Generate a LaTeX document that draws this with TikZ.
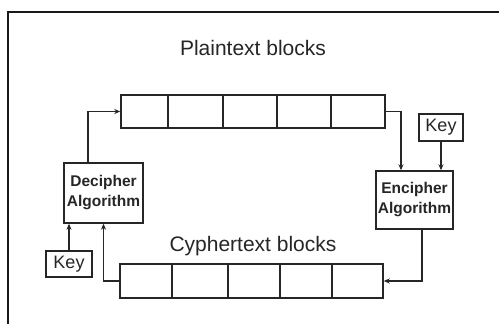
\documentclass[tikz,border=0pt]{standalone}
\usepackage{fontspec}
\setmainfont{Liberation Sans}
\usetikzlibrary{arrows.meta}
\begin{document}
\begin{tikzpicture}[x=1pt,y=-1pt,
  cell/.style={draw=black!85,line width=1.5pt,inner sep=0pt,minimum height=33pt},
  algbox/.style={draw=black!85,line width=1.4pt,inner sep=0pt,align=center,
    font=\bfseries\fontsize{15.5}{20}\selectfont,text=black!85},
  keybox/.style={draw=black!85,line width=1.4pt,inner sep=0pt,
    font=\fontsize{18}{20}\selectfont,text=black!85},
  title/.style={font=\fontsize{21}{24}\selectfont,text=black!85},
  arr/.style={draw=black!85,line width=1.2pt,-{Stealth[length=6pt,width=5pt]}}]
\clip (0,0) rectangle (499,324);
\fill[white] (0,0) rectangle (499,324);
% frame
\draw[line width=1.6pt,black!90] (8,340) -- (8,12) -- (520,12);
% titles
\node[title] (ptitle) at (253,48) {Plaintext blocks};
\node[title] (ctitle) at (253,246) {Cyphertext blocks};
% plaintext cells
\node[cell,minimum width=47pt] (p1) at (144.5,111.5) {};
\node[cell,minimum width=55pt] (p2) at (195.5,111.5) {};
\node[cell,minimum width=54pt] (p3) at (250,111.5) {};
\node[cell,minimum width=54pt] (p4) at (304,111.5) {};
\node[cell,minimum width=54pt] (p5) at (358,111.5) {};
% cyphertext cells
\node[cell,minimum height=34pt,minimum width=52pt] (c1) at (146,281) {};
\node[cell,minimum height=34pt,minimum width=56pt] (c2) at (200,281) {};
\node[cell,minimum height=34pt,minimum width=52pt] (c3) at (254,281) {};
\node[cell,minimum height=34pt,minimum width=52pt] (c4) at (306,281) {};
\node[cell,minimum height=34pt,minimum width=51pt] (c5) at (357.5,281) {};
% algorithm boxes
\node[algbox,minimum width=79pt,minimum height=60pt] (dec) at (103.5,193) {Decipher\\Algorithm};
\node[algbox,minimum width=77pt,minimum height=58pt] (enc) at (414.5,200) {Encipher\\Algorithm};
% keys
\node[keybox,minimum width=46pt,minimum height=26pt] (keyL) at (69,264) {Key};
\node[keybox,minimum width=44pt,minimum height=27pt] (keyR) at (441,127.5) {Key};
% connectors
\draw[arr] ([xshift=-15.5pt]dec.north) |- (p1.west);
\draw[arr] (p5.east) -| ([xshift=-13.5pt]enc.north);
\draw[arr] (keyR.south) -- (keyR.south |- enc.north);
\draw[arr] ([xshift=7.5pt]enc.south) |- (c5.east);
\draw[arr] (c1.west) -| (dec.south);
\draw[arr] (keyL.north) -- (keyL.north |- dec.south);
\end{tikzpicture}
\end{document}
